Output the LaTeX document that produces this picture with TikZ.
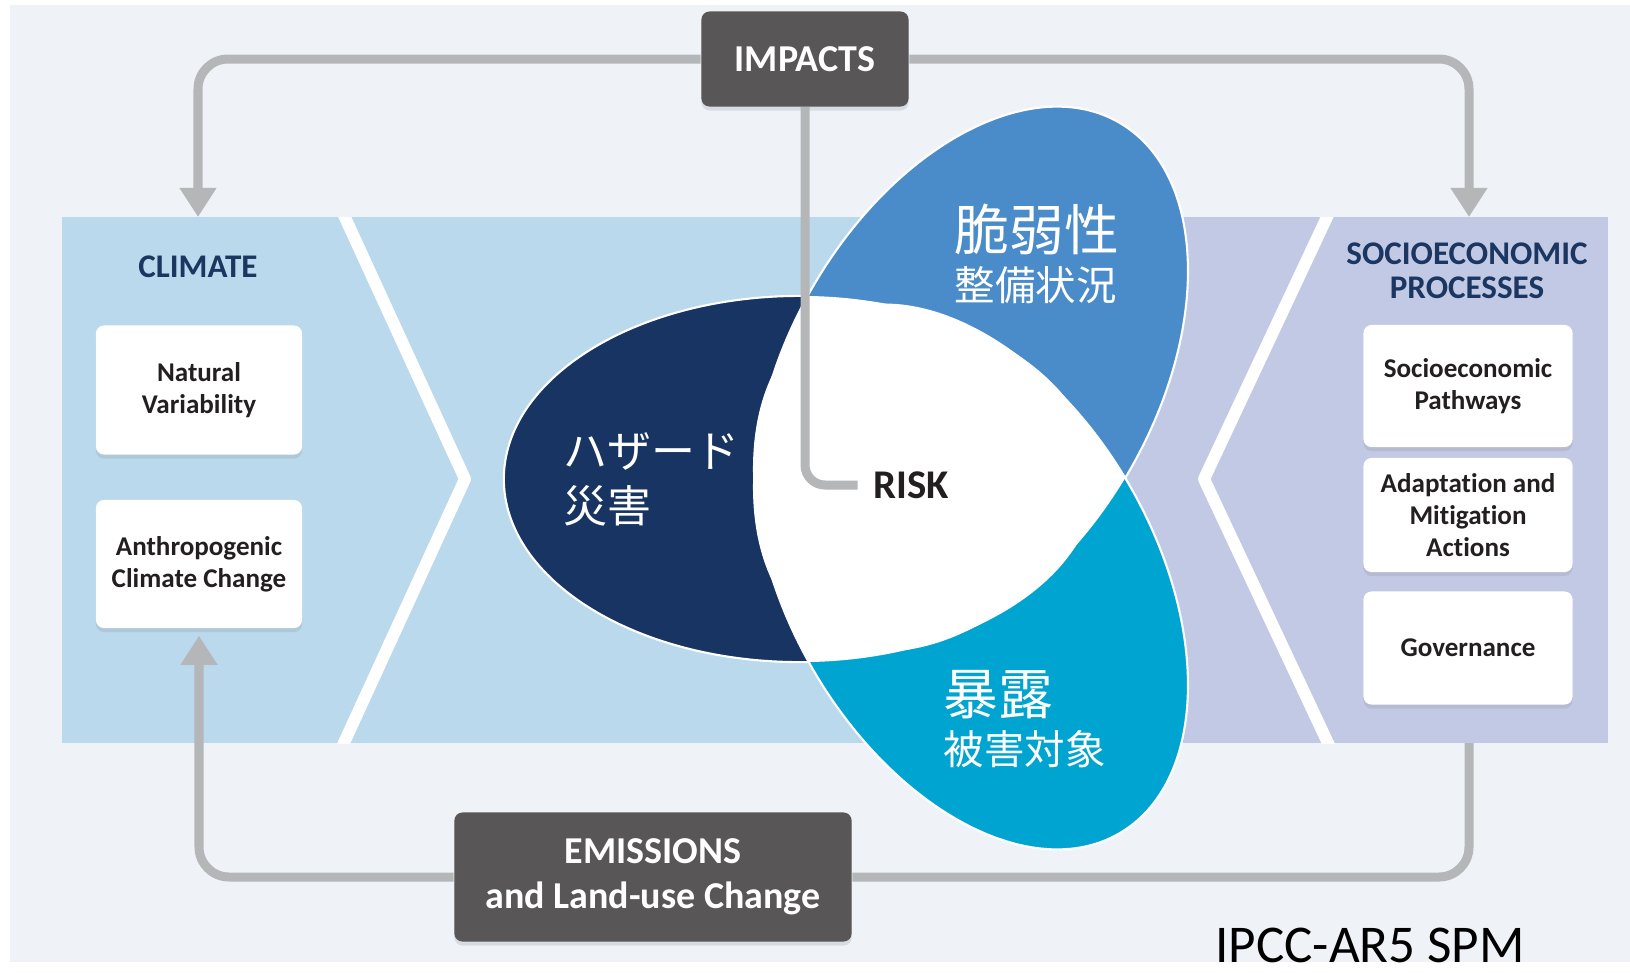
\documentclass[tikz,border=0pt]{standalone}
\usepackage{fontspec}
\setmainfont{Carlito}[Ligatures=NoCommon]
\newfontfamily\jpfont{Noto Sans CJK JP}
\usetikzlibrary{arrows.meta,shadows}

\definecolor{bgcol}{HTML}{EFF3F8}
\definecolor{climcol}{HTML}{BAD9EC}
\definecolor{sociocol}{HTML}{C2C9E4}
\definecolor{hazcol}{HTML}{183462}
\definecolor{vulcol}{HTML}{4A8BC9}
\definecolor{expcol}{HTML}{00A4D1}
\definecolor{darkbox}{HTML}{585656}
\definecolor{linkcol}{HTML}{B4B6B8}
\definecolor{headcol}{HTML}{1B3660}
\definecolor{textcol}{HTML}{231F20}

\newcommand{\hazpath}{(800,479) ellipse [x radius=2.96cm, y radius=1.83cm]}
\newcommand{\vulpath}{(971,379) ellipse [x radius=2.96cm, y radius=1.83cm, rotate=60]}
\newcommand{\exppath}{(971,577) ellipse [x radius=2.96cm, y radius=1.83cm, rotate=-60]}

\begin{document}
\begin{tikzpicture}[x=0.01cm, y=-0.01cm,
        whitebox/.style={fill=white, rounded corners=0.08cm, minimum width=2.06cm, align=center, text=textcol,
            font=\bfseries\fontsize{7.7}{9}\selectfont, drop shadow={shadow xshift=0pt, shadow yshift=-0.04cm, opacity=0.18}},
        darkbox/.style={fill=darkbox, rounded corners=0.08cm, align=center, text=white,
            font=\bfseries\fontsize{10.8}{12.8}\selectfont, drop shadow={shadow xshift=0pt, shadow yshift=-0.04cm, opacity=0.2}},
        header/.style={text=headcol, align=center, font=\bfseries\fontsize{9.4}{9.7}\selectfont},
        link/.style={draw=linkcol, line width=0.09cm, rounded corners=0.3cm},
        linkarrow/.style={link, -{Triangle[width=0.35cm, length=0.29cm]}},
        stripe/.style={draw=white, line width=0.12cm, line join=round},
        petal/.style={draw=white, line width=0.6pt},
        jpbig/.style={anchor=base west, inner sep=0, text=white, font=\jpfont\fontsize{15.6}{15.6}\selectfont},
        jpmid/.style={anchor=base west, inner sep=0, text=white, font=\jpfont\fontsize{12.5}{12.5}\selectfont},
        jpsmall/.style={anchor=base west, inner sep=0, text=white, font=\jpfont\fontsize{11.5}{11.5}\selectfont}]

        \useasboundingbox (0,0) rectangle (1630,972);
        \fill[white] (0,0) rectangle (1630,972);
        \fill[bgcol] (10,5) rectangle (1630,962);

        \fill[climcol] (62,217) rectangle (1128,743);
        \fill[sociocol] (1128,217) rectangle (1608,743);
        \begin{scope}
            \clip (62,217) rectangle (1608,743);
            \draw[stripe] (337,200) -- (465,479) -- (337,758);
            \draw[stripe] (1335,200) -- (1204,479) -- (1335,758);
        \end{scope}

        \filldraw[petal, fill=hazcol] \hazpath;
        \filldraw[petal, fill=vulcol] \vulpath;
        \filldraw[petal, fill=expcol] \exppath;
        \begin{scope}
            \clip \hazpath;
            \fill[white] \vulpath;
            \fill[white] \exppath;
        \end{scope}
        \begin{scope}
            \clip \vulpath;
            \fill[white] \exppath;
        \end{scope}

        \node[jpbig] (vulA) at (954,250) {脆弱性};
        \node[jpsmall] (vulB) at (954,300) {整備状況};
        \node[jpmid] (hazA) at (563,467) {ハザード};
        \node[jpmid] (hazB) at (563,522) {災害};
        \node[jpbig] (expA) at (943,714) {暴露};
        \node[jpsmall] (expB) at (943,764) {被害対象};
        \node[inner xsep=0.15cm, inner ysep=0, text=textcol, font=\bfseries\fontsize{11.6}{11.6}\selectfont] (risk) at (911,485) {RISK};

        \node[header] (climate) at (198,267) {CLIMATE};
        \node[whitebox, minimum height=1.29cm] (natural) at (199,390) {Natural\\Variability};
        \node[whitebox, minimum height=1.28cm] (anthro) at (199,564) {Anthropogenic\\Climate Change};

        \node[header] (socio) at (1467,271) {SOCIOECONOMIC\\PROCESSES};
        \node[whitebox, minimum width=2.09cm, minimum height=1.22cm] (pathways) at (1468,386) {Socioeconomic\\Pathways};
        \node[whitebox, minimum width=2.09cm, minimum height=1.14cm] (adapt) at (1468,515) {Adaptation and\\Mitigation\\Actions};
        \node[whitebox, minimum width=2.09cm, minimum height=1.13cm] (governance) at (1468,648) {Governance};

        \node[darkbox, minimum width=2.07cm, minimum height=0.95cm] (impacts) at (805,59) {IMPACTS};
        \node[darkbox, minimum width=3.97cm, minimum height=1.29cm] (emissions) at (653,877) {EMISSIONS\\and Land-use Change};

        \coordinate (climtop) at (198,217);
        \coordinate (sociotop) at (1469,217);
        \coordinate (sociobot) at (1469,743);

        \draw[linkarrow] (impacts.west) -| (climtop);
        \draw[linkarrow] (impacts.east) -| (sociotop);
        \draw[link, rounded corners=0.2cm] (impacts.south) |- (risk.west);
        \draw[linkarrow, shorten >=0.07cm] (emissions.west) -| (anthro.south);
        \draw[link] (sociobot) |- (emissions.east);

        \node[anchor=base, inner sep=0, font=\fontsize{15.1}{15.1}\selectfont] (source) at (1370,962) {IPCC-AR5 SPM};
\end{tikzpicture}
\end{document}
